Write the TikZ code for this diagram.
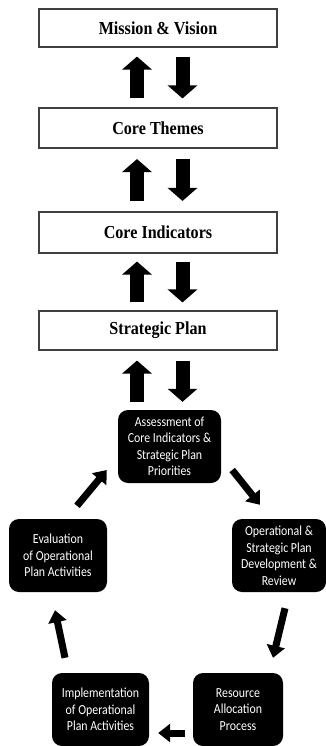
\documentclass[tikz,border=0pt]{standalone}
\usepackage{fontspec}
\setmainfont{Liberation Serif}
\newfontfamily\cyclefont[FakeStretch=0.86]{Carlito}
\newfontfamily\boxfont[FakeStretch=0.88]{Liberation Serif}
\usetikzlibrary{arrows.meta,calc}
\tikzset{
  rectbox/.style={draw=black!75, line width=1.1pt, minimum width=238pt, inner sep=0pt,
    font=\boxfont\bfseries\fontsize{18.3}{21}\selectfont},
  cyclebox/.style={fill=black, rounded corners=10pt, text=white, align=center, inner sep=0pt,
    minimum height=73pt, font=\cyclefont\fontsize{13.8}{16.5}\selectfont},
  bigarrow/.style={line width=14pt, -{Triangle[width=29pt,length=13pt]}},
  cycarrow/.style={line width=7pt, -{Triangle[width=18pt,length=12pt]}}
}
\begin{document}
\begin{tikzpicture}[x=1pt,y=-1pt]
\useasboundingbox (0,0) rectangle (326,746);
\node[rectbox, minimum height=38pt] (mv) at (158,28) {Mission \& Vision};
\node[rectbox, minimum height=40pt] (ct) at (158,128) {Core Themes};
\node[rectbox, minimum height=41pt] (ci) at (158,232.5) {Core Indicators};
\node[rectbox, minimum height=39pt] (sp) at (158,330.5) {Strategic Plan};

\node[cyclebox, minimum width=103pt] (as) at (169.5,446.5) {Assessment of\\Core Indicators \&\\Strategic Plan\\Priorities};
\node[cyclebox, minimum width=94pt] (op) at (279,555.5) {Operational \&\\Strategic Plan\\Development \&\\Review};
\node[cyclebox, minimum width=98pt] (ev) at (58,555.5) {Evaluation\\of Operational\\Plan Activities};
\node[cyclebox, minimum width=90pt] (ra) at (238,709.5) {Resource\\Allocation\\Process};
\node[cyclebox, minimum width=97pt] (im) at (100.5,709.5) {Implementation\\of Operational\\Plan Activities};

\draw[bigarrow] ($(ct.north)+(-21,-9)$) -- ($(mv.south)+(-21,9)$);
\draw[bigarrow] ($(mv.south)+(24.5,9)$) -- ($(ct.north)+(24.5,-9)$);
\draw[bigarrow] ($(ci.north)+(-21,-10.5)$) -- ($(ct.south)+(-21,10.5)$);
\draw[bigarrow] ($(ct.south)+(24.5,10.5)$) -- ($(ci.north)+(24.5,-10.5)$);
\draw[bigarrow] ($(sp.north)+(-21,-8)$) -- ($(ci.south)+(-21,8)$);
\draw[bigarrow] ($(ci.south)+(24.5,8)$) -- ($(sp.north)+(24.5,-8)$);
\draw[bigarrow] ($(as.north)+(-32.5,-8)$) -- ($(sp.south)+(-21,10)$);
\draw[bigarrow] ($(sp.south)+(24.5,10)$) -- ($(as.north)+(13,-8)$);

\draw[cycarrow] ($(as.east)+(11,23.5)$) -- ($(op.north)+(-19,-14)$);
\draw[cycarrow] ($(op.south)+(6,16)$) -- ($(ra.north)+(35,-15)$);
\draw[cycarrow] ($(ra.west)+(-8,23.5)$) -- ($(im.east)+(9,23.5)$);
\draw[cycarrow] ($(im.north)+(-35.5,-15)$) -- ($(ev.south)+(-3,18)$);
\draw[cycarrow] ($(ev.north)+(19,-13)$) -- ($(as.west)+(-11,23.5)$);
\end{tikzpicture}
\end{document}
